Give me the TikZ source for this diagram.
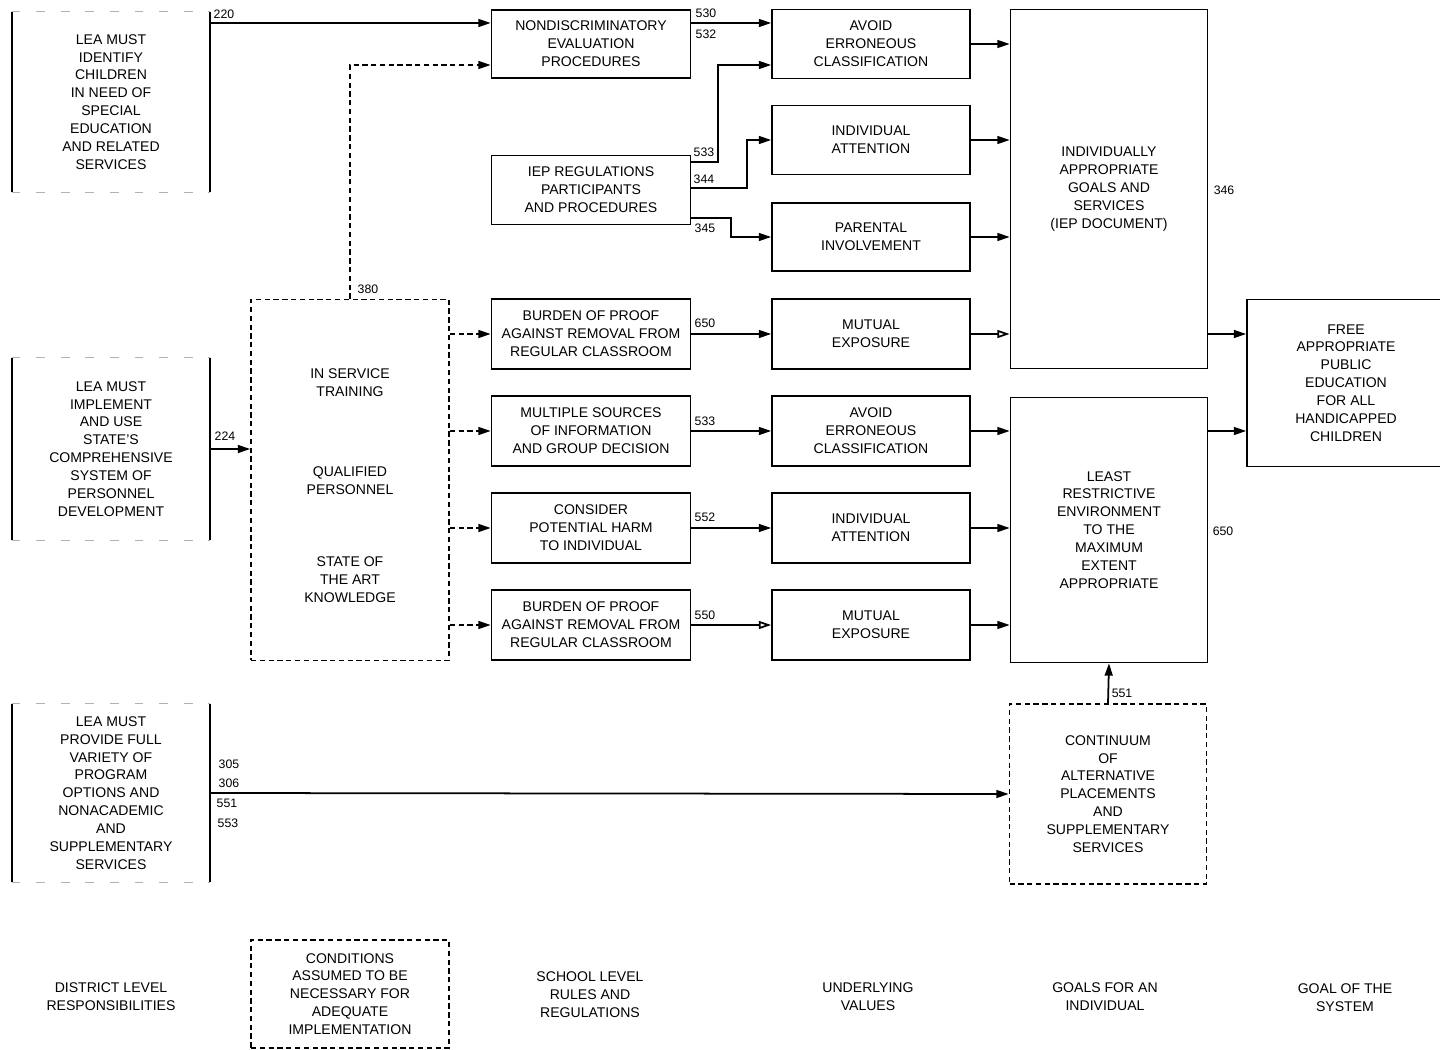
\documentclass[tikz,border=0pt]{standalone}
\usepackage{fontspec}
\setmainfont{Liberation Sans}
\usetikzlibrary{arrows.meta}

\begin{document}
\begin{tikzpicture}[x=0.02cm,y=-0.02cm,
	box/.style={draw,line width=1pt,align=center,inner sep=0pt,font=\myfontbox},
	rulebox/.style={box,minimum width=3.98cm,minimum height=1.4cm},
	valuebox/.style={box,minimum width=3.96cm,minimum height=1.4cm},
	goalbox/.style={box,minimum width=3.94cm},
	condbox/.style={box,dash pattern=on 3pt off 2pt},
	distbox/.style={align=center,inner sep=0pt,font=\myfontbox,minimum width=3.96cm},
	faint/.style={gray!60,line width=0.5pt,dash pattern=on 5pt off 9pt},
	farrow/.style={line width=1pt,-{Triangle[length=7pt,width=4.5pt]}},
	oarrow/.style={line width=1pt,-{Triangle[open,length=7pt,width=4.5pt]}},
	darrow/.style={farrow,dash pattern=on 3pt off 2pt},
	num/.style={inner sep=0pt,font=\myfontnum},
	caption/.style={align=center,inner sep=0pt,font=\myfontbox}]
			\newcommand{\myfontbox}{\fontsize{8}{10.2}\selectfont}
			\newcommand{\myfontnum}{\fontsize{7}{8}\selectfont}
			\useasboundingbox (0,0) rectangle (1440,1050);
			%District level responsibilities
			\node (d1) at (111,102) [distbox,minimum height=3.6cm] {LEA MUST\\IDENTIFY\\CHILDREN\\IN NEED OF\\SPECIAL\\EDUCATION\\AND RELATED\\SERVICES};
			\node (d2) at (111,449) [distbox,minimum height=3.64cm] {LEA MUST\\IMPLEMENT\\AND USE\\STATE'S\\COMPREHENSIVE\\SYSTEM OF\\PERSONNEL\\DEVELOPMENT};
			\node (d3) at (111,793) [distbox,minimum height=3.56cm] {LEA MUST\\PROVIDE FULL\\VARIETY OF\\PROGRAM\\OPTIONS AND\\NONACADEMIC\\AND\\SUPPLEMENTARY\\SERVICES};
			%Sides of the district boxes
			\foreach \d in {d1,d2,d3} {
				\draw[faint] (\d.north west) -- (\d.north east);
				\draw[faint] (\d.south west) -- (\d.south east);
				\draw[line width=1pt] (\d.north west) -- (\d.south west);
				\draw[line width=1pt] (\d.north east) -- (\d.south east);
			}
			%Conditions
			\node (cond) at (350,480) [condbox,minimum width=3.96cm,minimum height=7.22cm] {};
			\node (ct1) at (350,383) [caption] {IN SERVICE\\TRAINING};
			\node (ct2) at (350,481) [caption] {QUALIFIED\\PERSONNEL};
			\node (ct3) at (350,580) [caption] {STATE OF\\THE ART\\KNOWLEDGE};
			%School level rules and regulations
			\node (nd) at (591,44) [rulebox,minimum height=1.36cm] {NONDISCRIMINATORY\\EVALUATION\\PROCEDURES};
			\node (iep) at (591,190) [rulebox,minimum height=1.38cm] {IEP REGULATIONS\\PARTICIPANTS\\AND PROCEDURES};
			\node (b1) at (591,334) [rulebox] {BURDEN OF PROOF\\AGAINST REMOVAL FROM\\REGULAR CLASSROOM};
			\node (ms) at (591,431) [rulebox] {MULTIPLE SOURCES\\OF INFORMATION\\AND GROUP DECISION};
			\node (ch) at (591,528) [rulebox] {CONSIDER\\POTENTIAL HARM\\TO INDIVIDUAL};
			\node (b2) at (591,625) [rulebox] {BURDEN OF PROOF\\AGAINST REMOVAL FROM\\REGULAR CLASSROOM};
			%Underlying values
			\node (av1) at (871,44) [valuebox,minimum height=1.38cm] {AVOID\\ERRONEOUS\\CLASSIFICATION};
			\node (ia1) at (871,140) [valuebox,minimum height=1.38cm] {INDIVIDUAL\\ATTENTION};
			\node (pi) at (871,237) [valuebox,minimum height=1.36cm] {PARENTAL\\INVOLVEMENT};
			\node (me1) at (871,334) [valuebox] {MUTUAL\\EXPOSURE};
			\node (av2) at (871,431) [valuebox] {AVOID\\ERRONEOUS\\CLASSIFICATION};
			\node (ia2) at (871,528) [valuebox] {INDIVIDUAL\\ATTENTION};
			\node (me2) at (871,625) [valuebox] {MUTUAL\\EXPOSURE};
			%Goals for an individual
			\node (goals) at (1109,189) [goalbox,minimum height=7.18cm] {INDIVIDUALLY\\APPROPRIATE\\GOALS AND\\SERVICES\\(IEP DOCUMENT)};
			\node (lre) at (1109,530) [goalbox,minimum height=5.3cm] {LEAST\\RESTRICTIVE\\ENVIRONMENT\\TO THE\\MAXIMUM\\EXTENT\\APPROPRIATE};
			\node (cont) at (1108,794) [goalbox,dash pattern=on 3pt off 2pt,minimum height=3.6cm] {CONTINUUM\\OF\\ALTERNATIVE\\PLACEMENTS\\AND\\SUPPLEMENTARY\\SERVICES};
			%Goal of the system
			\node (fape) at (1346,383) [box,minimum width=3.96cm,minimum height=3.34cm] {FREE\\APPROPRIATE\\PUBLIC\\EDUCATION\\FOR ALL\\HANDICAPPED\\CHILDREN};
			%Legend row
			\node (capd) at (111,997) [caption] {DISTRICT LEVEL\\RESPONSIBILITIES};
			\node (capc) at (350,994) [condbox,minimum width=3.96cm,minimum height=2.16cm] {CONDITIONS\\ASSUMED TO BE\\NECESSARY FOR\\ADEQUATE\\IMPLEMENTATION};
			\node (caps) at (590,995) [caption] {SCHOOL LEVEL\\RULES AND\\REGULATIONS};
			\node (capv) at (868,997) [caption] {UNDERLYING\\VALUES};
			\node (capg) at (1105,997) [caption] {GOALS FOR AN\\INDIVIDUAL};
			\node (caps2) at (1345,998) [caption] {GOAL OF THE\\SYSTEM};
			%Connectors from the district level
			\coordinate (c220) at (d1.east |- 0,23);
			\coordinate (c380) at (cond.north |- 0,65);
			\draw[farrow] (c220) -- (nd.west |- c220);
			\draw[darrow] (cond.north) -- (c380) -- (nd.west |- c380);
			\draw[farrow] (d2.east) -- (cond.west |- d2.east);
			\draw[farrow] (d3.east) -- (cont.west);
			\foreach \s in {b1,ms,ch,b2} {
				\draw[darrow] (cond.east |- \s.west) -- (\s.west);
			}
			%Connectors to the values
			\draw[farrow] (nd.east |- c220) -- (av1.west |- c220);
			\draw[farrow] (iep.east |- 0,162) -| (718,65) -- (av1.west |- 0,65);
			\draw[farrow] (iep.east |- 0,188) -| (747,140) -- (ia1.west);
			\draw[farrow] (iep.east |- 0,218) -| (731,237) -- (pi.west);
			\draw[farrow] (b1.east) -- (me1.west);
			\draw[farrow] (ms.east) -- (av2.west);
			\draw[farrow] (ch.east) -- (ia2.west);
			\draw[oarrow] (b2.east) -- (me2.west);
			%Connectors to the goals
			\foreach \v in {av1,ia1,pi} {
				\draw[farrow] (\v.east) -- (goals.west |- \v.east);
			}
			\draw[oarrow] (me1.east) -- (goals.west |- me1.east);
			\foreach \v in {av2,ia2,me2} {
				\draw[farrow] (\v.east) -- (lre.west |- \v.east);
			}
			\draw[farrow] (cont.north) -- (lre.south);
			\draw[farrow] (goals.east |- me1.east) -- (fape.west |- me1.east);
			\draw[farrow] (lre.east |- av2.east) -- (fape.west |- av2.east);
			%Section numbers
			\node (n220) at (224,14) [num] {220};
			\node (n380) at (368,289) [num] {380};
			\node (n224) at (225,436) [num] {224};
			\node (n305) at (229,764) [num] {305};
			\node (n306) at (229,783) [num] {306};
			\node (n551a) at (227,803) [num] {551};
			\node (n553) at (228,823) [num] {553};
			\node (n530) at (706,13) [num] {530};
			\node (n532) at (706,34) [num] {532};
			\node (n533a) at (704,152) [num] {533};
			\node (n344) at (704,179) [num] {344};
			\node (n345) at (705,228) [num] {345};
			\node (n650a) at (705,323) [num] {650};
			\node (n533b) at (705,421) [num] {533};
			\node (n552) at (705,517) [num] {552};
			\node (n550) at (705,615) [num] {550};
			\node (n346) at (1224,190) [num] {346};
			\node (n650b) at (1223,531) [num] {650};
			\node (n551b) at (1122,693) [num] {551};
\end{tikzpicture}
\end{document}
